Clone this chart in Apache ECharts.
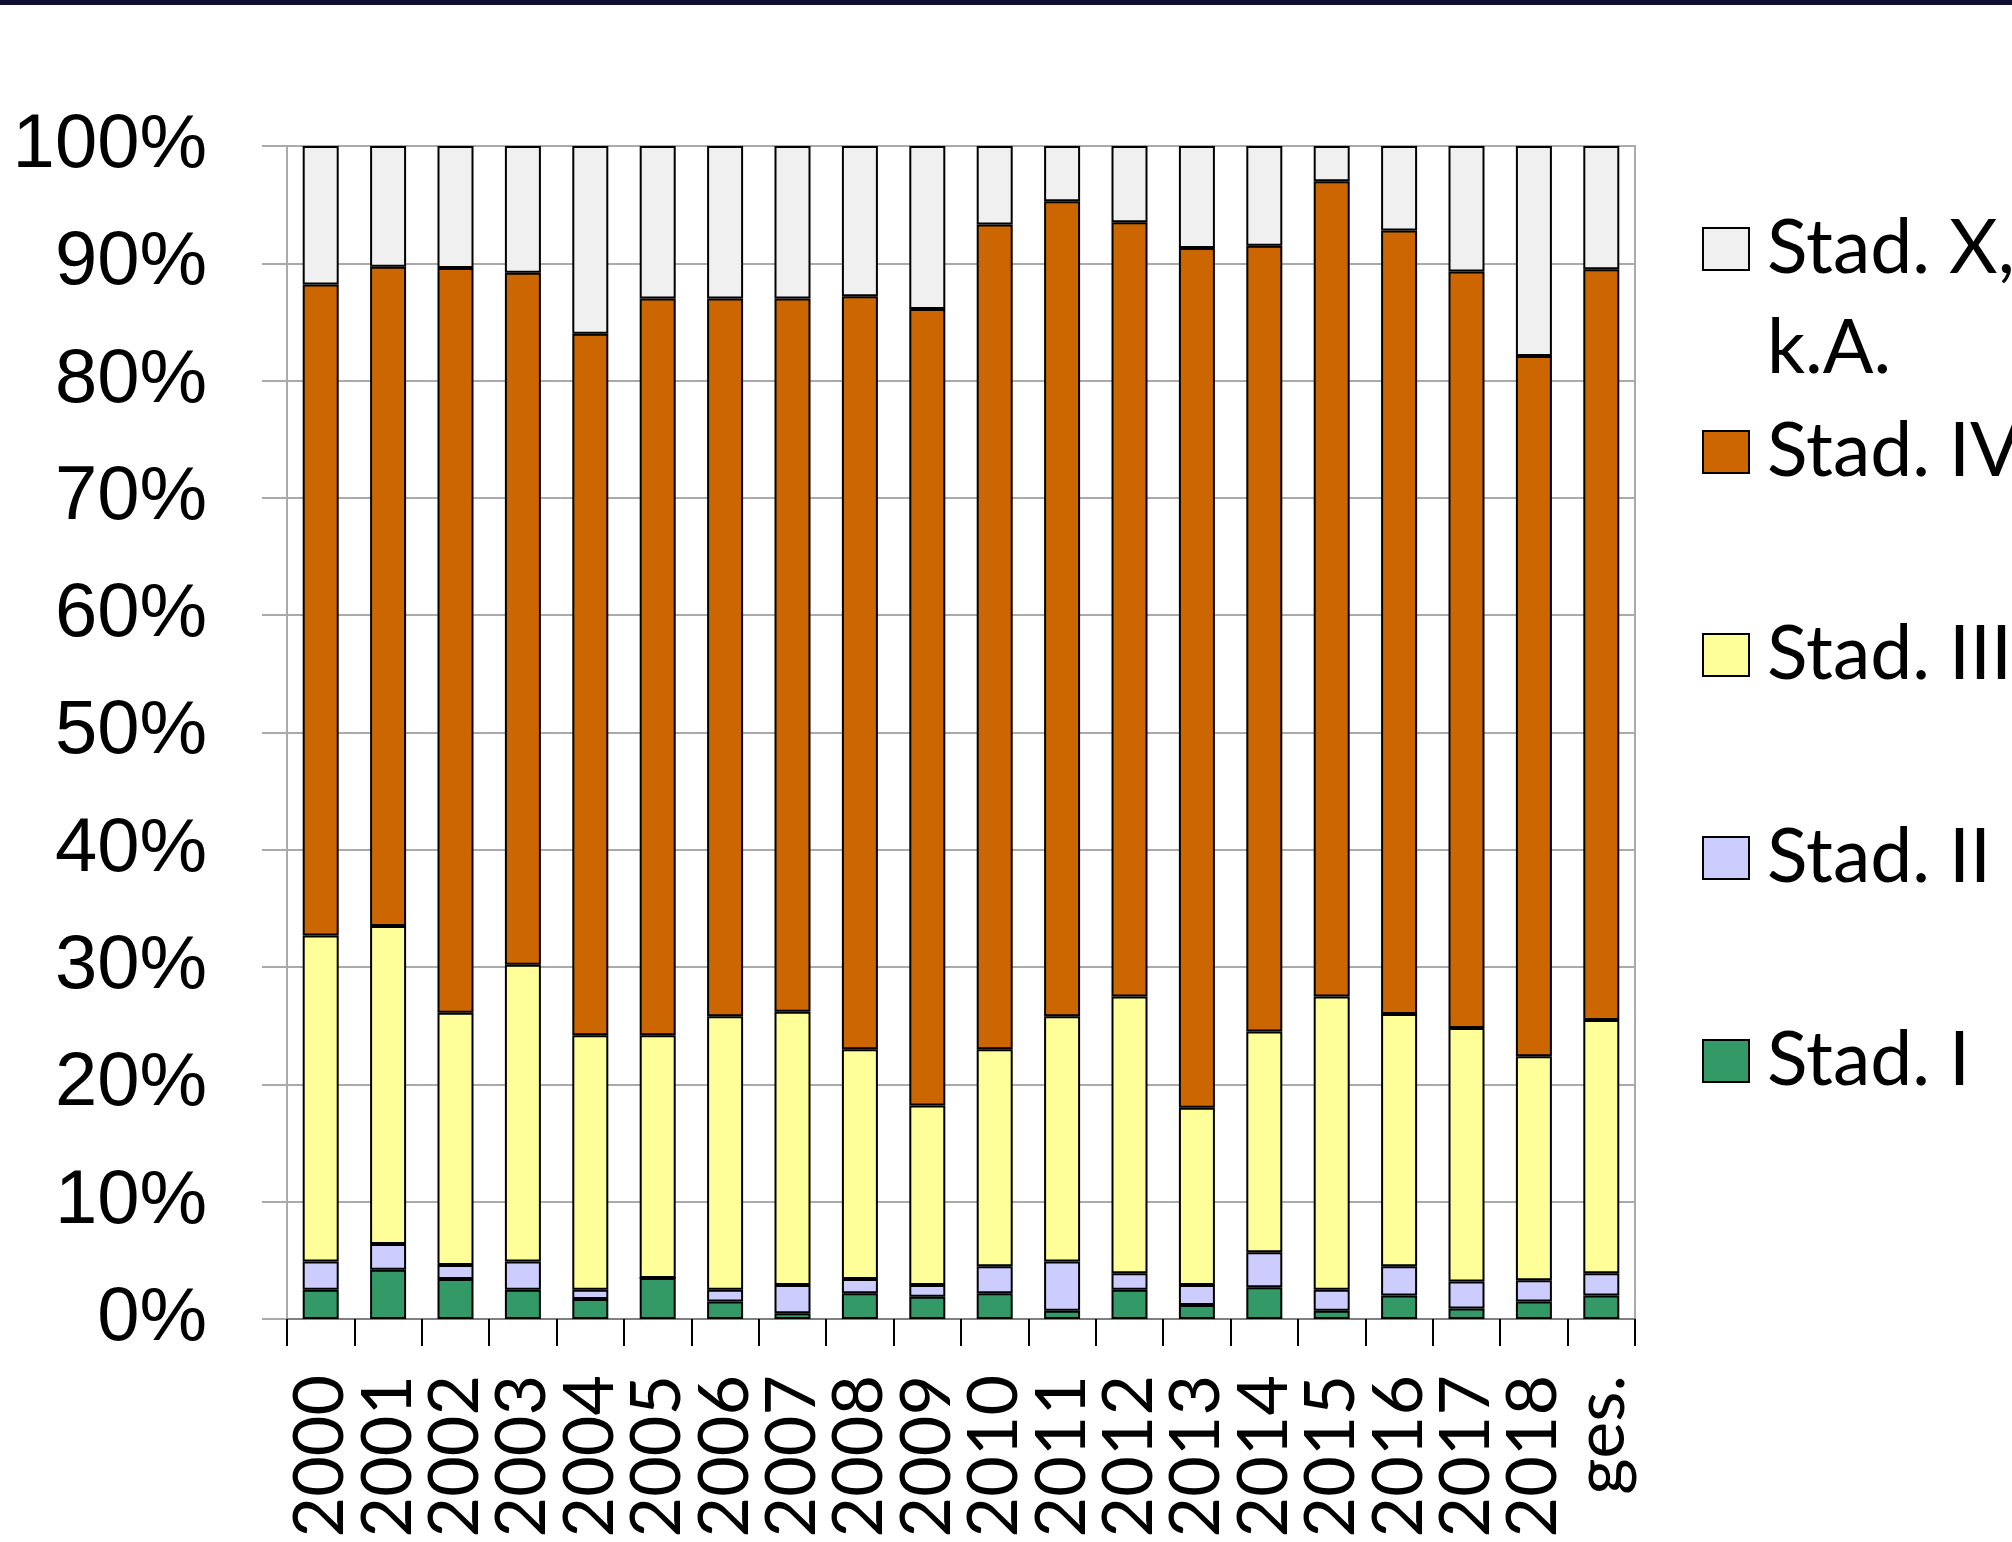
<!DOCTYPE html>
<html>
<head>
<meta charset="utf-8">
<script src="https://cdn.jsdelivr.net/npm/echarts@6/dist/echarts.min.js"></script>
<style>
html,body{margin:0;padding:0;background:#fff;}
#chart{width:2012px;height:1542px;}
</style>
</head>
<body>
<div id="chart"></div>
<script>
const categories = ['2000','2001','2002','2003','2004','2005','2006','2007','2008','2009','2010','2011','2012','2013','2014','2015','2016','2017','2018','ges.'];
const stadI   = [2.5, 4.2, 3.4, 2.5, 1.7, 3.5, 1.5, 0.5, 2.2, 1.9, 2.2, 0.7, 2.5, 1.2, 2.7, 0.7, 2.0, 0.9, 1.5, 2.0];
const stadII  = [2.4, 2.2, 1.2, 2.4, 0.8, 0.0, 1.0, 2.4, 1.2, 1.0, 2.3, 4.2, 1.4, 1.7, 3.0, 1.8, 2.5, 2.3, 1.8, 1.9];
const stadIII = [27.8, 27.1, 21.5, 25.3, 21.7, 20.7, 23.3, 23.3, 19.6, 15.3, 18.5, 20.9, 23.6, 15.1, 18.8, 25.0, 21.5, 21.6, 19.1, 21.6];
const stadIV  = [55.5, 56.2, 63.5, 59.0, 59.8, 62.8, 61.2, 60.8, 64.2, 67.9, 70.3, 69.5, 66.0, 73.3, 67.0, 69.5, 66.8, 64.5, 59.7, 64.0];
const stadX   = [11.8, 10.3, 10.4, 10.8, 16.0, 13.0, 13.0, 13.0, 12.8, 13.9, 6.7, 4.7, 6.5, 8.7, 8.5, 3.0, 7.2, 10.7, 17.9, 10.5];
const seriesNames = ['Stad. I', 'Stad. II', 'Stad. III', 'Stad. IV', 'Stad. X, k.A.'];
const yTicks = [0, 10, 20, 30, 40, 50, 60, 70, 80, 90, 100];

const colors = ['#339966', '#CCCCFF', '#FFFF99', '#CC6600', '#F0F0F0'];
const seriesData = [stadI, stadII, stadIII, stadIV, stadX];

const chart = echarts.init(document.getElementById('chart'), null, {renderer: 'canvas'});
const legendCommon = {
  orient: 'vertical',
  left: 1702,
  padding: 0,
  icon: 'rect',
  itemWidth: 46,
  itemHeight: 42,
  itemStyle: {borderColor: '#000', borderWidth: 2},
  selectedMode: false
};
const option = {
  animation: false,
  backgroundColor: '#ffffff',
  graphic: [{
    type: 'rect', left: 0, top: 0, z: 100,
    shape: {width: 2012, height: 5},
    style: {fill: '#0f1030'}
  }],
  grid: {
    left: 287, right: 377, top: 146, bottom: 223,
    show: true, borderColor: '#aaaaaa', borderWidth: 2
  },
  legend: [
    Object.assign({}, legendCommon, {
      top: 99,
      data: ['Stad. X, k.A.'],
      formatter: function (n) { return '\nStad. X,\nk.A.'; },
      textStyle: {fontFamily: 'Lato', fontSize: 75, lineHeight: 100, color: '#000', padding: [0, 0, 0, 13]}
    }),
    Object.assign({}, legendCommon, {
      top: 402,
      itemGap: 103,
      data: ['Stad. IV', 'Stad. III', 'Stad. II', 'Stad. I'],
      textStyle: {fontFamily: 'Lato', fontSize: 75, lineHeight: 100, color: '#000', padding: [0, 0, 0, 13]}
    })
  ],
  xAxis: {
    type: 'category',
    data: categories,
    boundaryGap: true,
    axisLine: {show: true, lineStyle: {color: '#808080', width: 2}},
    axisTick: {show: true, interval: 0, length: 27, lineStyle: {color: '#000', width: 2}},
    axisLabel: {interval: 0, rotate: 90, margin: 56, fontFamily: 'Lato', fontSize: 70, color: '#000'},
    splitLine: {show: false}
  },
  yAxis: {
    type: 'value',
    min: yTicks[0],
    max: yTicks[yTicks.length - 1],
    interval: 10,
    axisLine: {show: true, lineStyle: {color: '#aaaaaa', width: 2}},
    axisTick: {show: true, length: 25, lineStyle: {color: '#aaaaaa', width: 2}},
    axisLabel: {
      margin: 80,
      formatter: '{value}%',
      fontFamily: "'Liberation Sans Narrow', 'Arial Narrow', 'Liberation Sans', sans-serif",
      fontSize: 76,
      color: '#000'
    },
    splitLine: {show: true, lineStyle: {color: '#aaaaaa', width: 2}}
  },
  series: seriesNames.map(function (name, i) {
    return {
      name: name,
      type: 'bar',
      stack: 'total',
      barWidth: 36,
      data: seriesData[i],
      itemStyle: {color: colors[i], borderColor: '#000', borderWidth: 2}
    };
  })
};
chart.setOption(option);
</script>
</body>
</html>
